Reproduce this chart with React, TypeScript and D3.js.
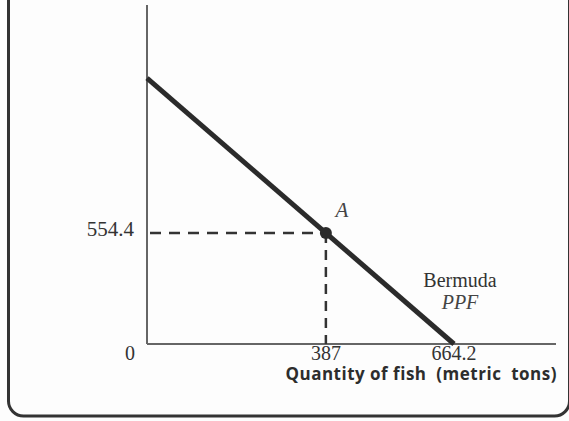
import React from 'react';
import * as d3 from 'd3';

// PPF endpoints (quantity of fish, other good)
const ppfFish = [0, 664.2];
const ppfOther = [1328.4, 0];

// point A on the frontier
const pointA = { label: 'A', fish: 387, other: 554.4 };

const xTickLabels = ['0', '387', '664.2'];
const yTickLabels = ['554.4'];

const xTitle = 'Quantity of fish\u00a0 (metric\u00a0 tons)';
const curveName = ['Bermuda', 'PPF'];

const W = 569;
const H = 421;

const serif = '"Liberation Serif", "Times New Roman", serif';
const sans = '"Open Sans", "Noto Sans", sans-serif';

const App = () => {
  const x = d3.scaleLinear().domain([0, 664.2]).range([147, 454]);
  const y = d3.scaleLinear().domain([0, 554.4]).range([344, 233]);

  const x0 = x(0);
  const y0 = y(0);
  const xAxisEnd = 556;
  const yAxisTop = 5;

  const line = d3
    .line<number>()
    .x((d) => x(ppfFish[d]))
    .y((d) => y(ppfOther[d]));

  const ax = x(pointA.fish);
  const ay = y(pointA.other);

  return (
    <svg
      width={W}
      height={H}
      style={{ position: 'absolute', left: 0, top: 0, background: '#fdfdfd' }}
    >
      {/* frame, top and right edges run off the page */}
      <rect
        x={8.5}
        y={-30}
        width={561}
        height={446}
        rx={15}
        fill="none"
        stroke="#333"
        strokeWidth={3}
      />

      {/* axes */}
      <line x1={x0} y1={yAxisTop} x2={x0} y2={y0} stroke="#666" strokeWidth={2} />
      <line x1={x0} y1={y0} x2={xAxisEnd} y2={y0} stroke="#666" strokeWidth={2} />

      {/* dashed guides to A */}
      <line
        x1={x0}
        y1={ay}
        x2={ax}
        y2={ay}
        stroke="#333"
        strokeWidth={2.5}
        strokeDasharray="11,8"
        strokeDashoffset={-3}
      />
      <line
        x1={ax}
        y1={ay}
        x2={ax}
        y2={y0}
        stroke="#333"
        strokeWidth={2.5}
        strokeDasharray="10,7"
      />

      {/* frontier */}
      <path
        d={line([0, 1]) || ''}
        fill="none"
        stroke="#2b2b2b"
        strokeWidth={5}
      />
      <circle cx={ax} cy={ay} r={6} fill="#2b2b2b" />

      {/* labels */}
      <text x={ax + 16} y={ay - 16} fontFamily={serif} fontStyle="italic" fontSize={21} fill="#444" textAnchor="middle">
        {pointA.label}
      </text>
      <text x={134} y={ay + 3} fontFamily={serif} fontSize={21} fill="#333" textAnchor="end">
        {yTickLabels[0]}
      </text>
      <text x={130} y={360} fontFamily={serif} fontSize={20} fill="#333" textAnchor="middle">
        {xTickLabels[0]}
      </text>
      <text x={x(387)} y={360} fontFamily={serif} fontSize={20} fill="#333" textAnchor="middle">
        {xTickLabels[1]}
      </text>
      <text x={x(664.2)} y={360} fontFamily={serif} fontSize={20} fill="#333" textAnchor="middle">
        {xTickLabels[2]}
      </text>
      <text x={460} y={287} fontFamily={serif} fontSize={20} fill="#333" textAnchor="middle">
        {curveName[0]}
      </text>
      <text x={460} y={309} fontFamily={serif} fontStyle="italic" fontSize={20} fill="#444" textAnchor="middle">
        {curveName[1]}
      </text>
      <text
        x={557}
        y={380}
        fontFamily={sans}
        fontWeight="bold"
        fontSize={17}
        letterSpacing={0.5}
        fill="#2d2d2d"
        textAnchor="end"
      >
        {xTitle}
      </text>
    </svg>
  );
};

export default App;
